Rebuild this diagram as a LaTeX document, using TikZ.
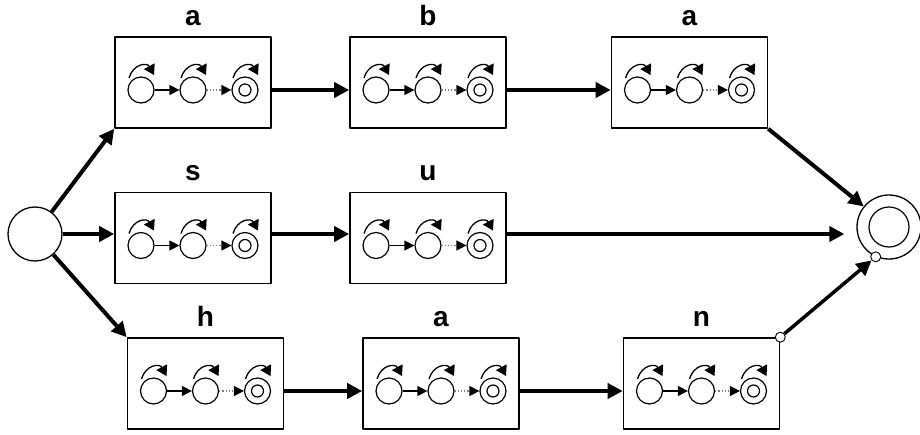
\documentclass[tikz,border=0pt]{standalone}
\usepackage{fontspec}
\setsansfont{Liberation Sans}
\usetikzlibrary{arrows.meta}
\tikzset{
  frame/.style={draw, line width=1.6pt, minimum width=156pt, minimum height=91pt, inner sep=0pt},
  word/.style={font=\sffamily\bfseries\fontsize{28}{28}\selectfont, inner sep=0pt},
  state/.style={circle, draw, line width=1.2pt, minimum size=26pt, inner sep=0pt},
  bigstate/.style={circle, draw, line width=1.3pt, inner sep=0pt},
  port/.style={circle, draw, fill=white, line width=0.9pt, minimum size=10pt, inner sep=0pt},
  link/.style={line width=4pt, -{Triangle[length=15pt,width=15pt]}},
  move/.style={line width=1.2pt, -{Triangle[length=10pt,width=10pt,color=black]}},
  loopy/.style={line width=1.3pt, -{Triangle[length=10pt,width=12pt]}}
}
\begin{document}
\begin{tikzpicture}[x=1pt, y=1pt, line join=round]
    \useasboundingbox (0,0) rectangle (920,-434);
    % start and final state
    \node[bigstate, minimum size=54pt] (S0) at (35,-234) {};
    \node[bigstate, minimum size=64pt] (F) at (889,-227) {};
    \draw[line width=1.2pt] (F) circle (20pt);
    % one box per letter
    \foreach \b/\x/\y/\t in {A1/193/-82.5/a, B1/428/-82.5/b, A2/689.5/-82.5/a,
                             S/193/-238/s, U/428/-238/u,
                             H/205.5/-383.5/h, A3/441/-383.5/a, N/701.5/-383.5/n}{
        \node[frame] (\b) at (\x,\y) {};
        \node[word, anchor=base] (\b-lab) at ([yshift=11pt]\b.north) {\t};
        \node[state] (\b-1) at ([xshift=-52pt, yshift=-7.5pt]\b.center) {};
        \node[state] (\b-2) at ([yshift=-7.5pt]\b.center) {};
        \node[state] (\b-3) at ([xshift=52pt, yshift=-7.5pt]\b.center) {};
        \draw[line width=1.2pt] (\b-3) circle (6pt);
        \draw[move] (\b-1) -- (\b-2);
        \draw[move, gray, dotted] (\b-2) -- (\b-3);
        \foreach \i in {1,2,3}
            \draw[loopy] ([shift={(-12pt,12pt)}]\b-\i.center) .. controls +(4,14) and +(-7,13) .. ([shift={(13pt,15pt)}]\b-\i.center);
    }
    % top row
    \draw[link] (S0) -- (A1.south west);
    \draw[link] (A1-3 -| A1.east) -- (A1-3 -| B1.west);
    \draw[link] (B1-3 -| B1.east) -- (B1-3 -| A2.west);
    \draw[link] (A2.south east) -- (F);
    % middle row
    \draw[link] (S0) -- (S0 -| S.west);
    \draw[link] (S0 -| S.east) -- (S0 -| U.west);
    \draw[link, shorten >=12pt] (S0 -| U.east) -- (S0 -| F.west);
    % bottom row
    \draw[link] (S0) -- (H.north west);
    \draw[link] (H-3 -| H.east) -- (H-3 -| A3.west);
    \draw[link] (A3-3 -| A3.east) -- (A3-3 -| N.west);
    \node[port] (Np) at (N.north east) {};
    \node[port] (Fp) at (F.-114) {};
    \draw[link, line width=3.5pt] (Np) -- (Fp);
\end{tikzpicture}
\end{document}
